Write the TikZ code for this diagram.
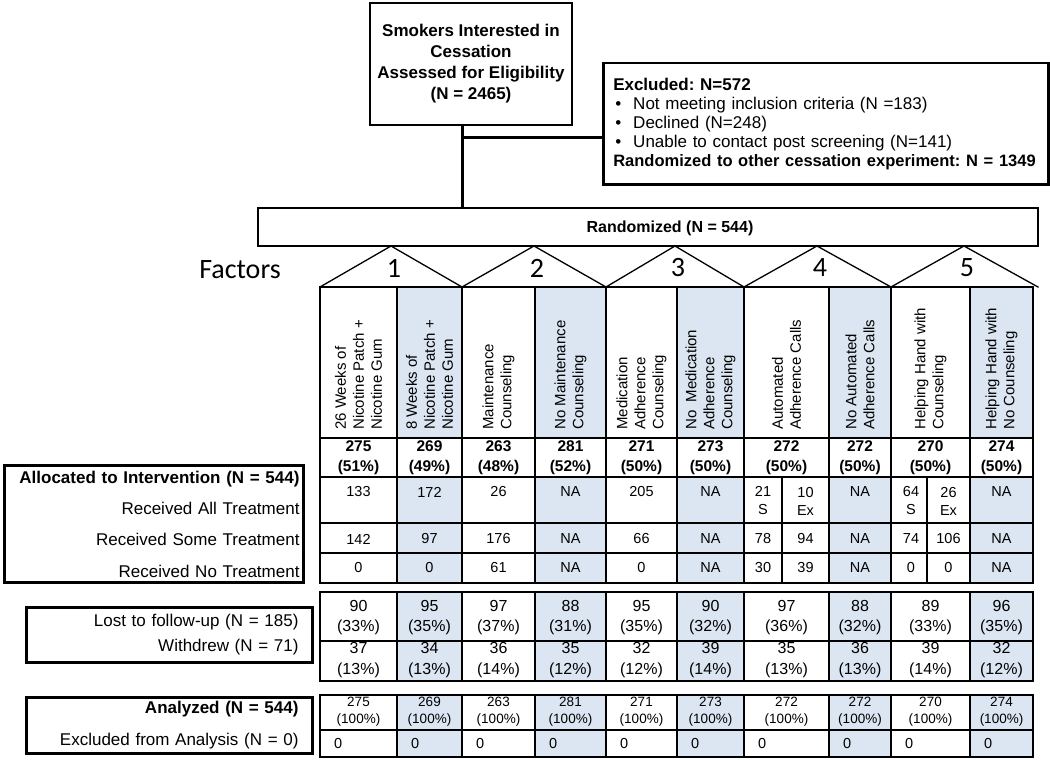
\documentclass[tikz,border=0pt]{standalone}
\usepackage{fontspec}
\setmainfont{Liberation Sans}
\newfontfamily\calfont{Carlito}
\definecolor{cellblue}{HTML}{DCE6F2}
\newcommand\setfs[2]{\fontsize{#1}{#2}\selectfont}
\frenchspacing

\begin{document}
\begin{tikzpicture}[x=1pt, y=-1pt,
  box/.style={draw, line width=2.5pt, inner sep=0pt},
  sidebox/.style={draw, line width=3pt, anchor=north west, align=right},
  conn/.style={line width=3pt},
  tabline/.style={line width=1.3pt, line cap=rect},
  headtxt/.style={rotate=90, anchor=west, align=left, inner sep=3pt, font=\setfs{15}{18}},
  cnt/.style={align=center, inner sep=0pt, font=\bfseries\setfs{15.5}{20}},
  val/.style={align=center, inner sep=0pt, font=\setfs{14.5}{18}},
  pct/.style={align=center, inner sep=0pt, font=\setfs{16}{20.5}},
  anatxt/.style={align=center, inner sep=0pt, font=\setfs{13.5}{17}},
  bigtxt/.style={font=\calfont\setfs{28}{30}},
]
  \useasboundingbox (0,0) rectangle (1050,760);
  % screening and exclusions
  \node[box, minimum width=202, minimum height=122, align=center,
    font=\bfseries\setfs{17}{21}] (screen) at (471,64)
    {Smokers Interested in\\Cessation\\Assessed for Eligibility\\(N = 2465)};
  \node[box, anchor=north west, minimum width=445, minimum height=121,
    text width=433, inner xsep=6, align=left, font=\setfs{17}{19}] (excl) at (602,62)
    {\hspace*{4pt}\textbf{Excluded: N=572}\\
     \hspace*{6pt}\makebox[18pt][l]{\textbullet}Not meeting inclusion criteria (N =183)\\
     \hspace*{6pt}\makebox[18pt][l]{\textbullet}Declined (N=248)\\
     \hspace*{6pt}\makebox[18pt][l]{\textbullet}Unable to contact post screening (N=141)\\
     \hspace*{4pt}\mbox{\fontsize{16.5}{19}\selectfont\textbf{Randomized to other cessation experiment: N = 1349}}};
  \node[draw, line width=2pt, minimum width=780, minimum height=38] (rand) at (648,227) {};
  \node[font=\bfseries\setfs{16}{19}] (randlabel) at (670,228) {Randomized (N = 544)};
  \coordinate (split) at (462,137);
  \draw[conn] (screen.south -| split) -- (rand.north -| split);
  \draw[conn] (split) -- (split -| excl.west);

  % factors
  \node[bigtxt] (factors) at (240,270) {Factors};
  \foreach \a/\b/\c [count=\k] in {320/391/462, 462/534/606, 606/675/744, 744/817/891, 891/964/1038} {
    \draw[tabline] (\a,287) -- (\b,246) -- (\c,287);
    \node[bigtxt] (f\k) at ({\b+3},268) {\k};
  }

  % shaded columns
  \foreach \l/\r in {397/462, 535/606, 677/744, 829/891, 970/1033} {
    \fill[cellblue] (\l,287) rectangle (\r,438);
    \fill[cellblue] (\l,477) rectangle (\r,583);
    \fill[cellblue] (\l,592) rectangle (\r,681);
    \fill[cellblue] (\l,695) rectangle (\r,757);
  }
  % table rules
  \foreach \y in {287,438,477,523,553,583,592,641,681,695,730,757}
    \draw[tabline] (320,\y) -- (1033,\y);
  \foreach \x in {320,397,462,535,606,677,744,829,891,970,1033} {
    \draw[tabline] (\x,287) -- (\x,583);
    \draw[tabline] (\x,592) -- (\x,681);
    \draw[tabline] (\x,695) -- (\x,757);
  }
  \foreach \x in {782,927}
    \draw[tabline] (\x,477) -- (\x,583);

  % column heads
  \foreach \i/\l/\r/\t in {1/320/397/{26 Weeks of\\Nicotine Patch +\\Nicotine Gum},
      2/397/462/{8 Weeks of\\Nicotine Patch +\\Nicotine Gum},
      3/462/535/{Maintenance\\Counseling},
      4/535/606/{No Maintenance\\Counseling},
      5/606/677/{Medication\\Adherence\\Counseling},
      6/677/744/{No~~Medication\\Adherence\\Counseling},
      7/744/829/{Automated\\Adherence Calls},
      8/829/891/{No Automated\\Adherence Calls},
      9/891/970/{Helping Hand with\\Counseling},
      10/970/1033/{Helping Hand with\\No Counseling}}
    \node[headtxt] (h\i) at ({(\l+\r)/2},433) {\t};

  % counts, analysed, excluded
  \foreach \i/\l/\r/\n/\p in {1/320/397/275/51, 2/397/462/269/49, 3/462/535/263/48,
      4/535/606/281/52, 5/606/677/271/50, 6/677/744/273/50, 7/744/829/272/50,
      8/829/891/272/50, 9/891/970/270/50, 10/970/1033/274/50} {
    \node[cnt] (c\i) at ({(\l+\r)/2},457.5) {\n\\(\p\%)};
    \node[anatxt] (z\i) at ({(\l+\r)/2},711.5) {\n\\(100\%)};
    \node[val, anchor=west] (e\i) at ({\l+14},744) {0};
  }

  % received treatment
  \foreach \x/\v [count=\k] in {358.5/133, 429.5/172, 498.5/26, 570.5/NA, 641.5/205,
      710.5/NA, 860/NA, 1001.5/NA}
    \node[val] (a\k) at (\x,492) {\v};
  \foreach \x/\v [count=\k] in {763/{21\\S}, 805.5/{10\\Ex}, 911/{64\\S}, 948.5/{26\\Ex}}
    \node[val] (s\k) at (\x,501) {\v};
  \foreach \x/\v [count=\k] in {358.5/142, 429.5/97, 498.5/176, 570.5/NA, 641.5/66,
      710.5/NA, 763/78, 805.5/94, 860/NA, 911/74, 948.5/106, 1001.5/NA}
    \node[val] (b\k) at (\x,539) {\v};
  \foreach \x/\v [count=\k] in {358.5/0, 429.5/0, 498.5/61, 570.5/NA, 641.5/0,
      710.5/NA, 763/30, 805.5/39, 860/NA, 911/0, 948.5/0, 1001.5/NA}
    \node[val] (n\k) at (\x,568) {\v};

  % lost and withdrew
  \foreach \x/\na/\pa/\nb/\pb [count=\k] in {358.5/90/33/37/13, 429.5/95/35/34/13,
      498.5/97/37/36/14, 570.5/88/31/35/12, 641.5/95/35/32/12, 710.5/90/32/39/14,
      786.5/97/36/35/13, 860/88/32/36/13, 930.5/89/33/39/14, 1001.5/96/35/32/12} {
    \node[pct] (l\k) at (\x,617.5) {\na\\(\pa\%)};
    \node[pct] (w\k) at (\x,660) {\nb\\(\pb\%)};
  }

  % row labels
  \node[sidebox, minimum width=299, minimum height=117, text width=291, inner xsep=4,
    font=\setfs{17}{31.3}] (alloc) at (3,464)
    {\textbf{Allocated to Intervention (N = 544)}\\Received All Treatment\\
     Received Some Treatment\\Received No Treatment};
  \node[sidebox, minimum width=286, minimum height=55, text width=258, inner xsep=14,
    font=\setfs{17}{25}] (lost) at (25,606)
    {Lost to follow-up (N = 185)\\Withdrew (N = 71)};
  \node[sidebox, minimum width=286, minimum height=56, text width=258, inner xsep=14,
    font=\setfs{17}{32}] (anal) at (25,696)
    {\textbf{Analyzed (N = 544)}\\Excluded from Analysis (N = 0)};
\end{tikzpicture}
\end{document}
